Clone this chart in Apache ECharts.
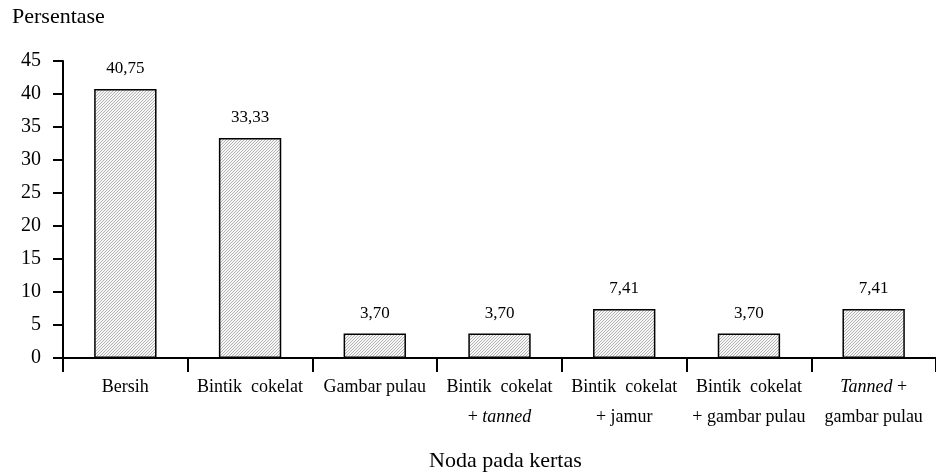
<!DOCTYPE html>
<html>
<head>
<meta charset="utf-8">
<script src="https://cdn.jsdelivr.net/npm/echarts@6/dist/echarts.min.js"></script>
<style>
html, body { margin: 0; padding: 0; background: #fff; }
#main { width: 936px; height: 475px; }
</style>
</head>
<body>
<div id="main"></div>
<script>
var categories = ['Bersih', 'Bintik  cokelat', 'Gambar pulau', 'Bintik  cokelat\n+ {i|tanned}',
	'Bintik  cokelat\n+ jamur', 'Bintik  cokelat\n+ gambar pulau', '{i|Tanned} +\ngambar pulau'];
var values = [40.75, 33.33, 3.70, 3.70, 7.41, 3.70, 7.41];
var yTicks = { min: 0, max: 45, interval: 5 };

// hatch fill
var hatch = document.createElement('canvas');
hatch.width = 3;
hatch.height = 3;
var ctx = hatch.getContext('2d');
ctx.fillStyle = '#f6f6f6';
ctx.fillRect(0, 0, 3, 3);
ctx.fillStyle = '#b4b4b4';
ctx.fillRect(2, 0, 1, 1);
ctx.fillRect(1, 1, 1, 1);
ctx.fillRect(0, 2, 1, 1);

var font = '"Liberation Serif", "Times New Roman", serif';
var chart = echarts.init(document.getElementById('main'));
var option = {
	animation : false,
	textStyle : { fontFamily : font, color : '#000' },
	grid : { left : 63, right : 0, top : 61, bottom : 117 },
	graphic : [ {
		type : 'text', left : 12, top : 6,
		style : { text : 'Persentase', font : '22px ' + font, fill : '#000' }
	}, {
		type : 'text', left : 429, top : 450,
		style : { text : 'Noda pada kertas', font : '22px ' + font, fill : '#000' }
	} ],
	xAxis : {
		type : 'category',
		data : categories,
		axisLine : { lineStyle : { color : '#000', width : 2 } },
		axisTick : { show : true, inside : false, length : 14, lineStyle : { color : '#000', width : 2 } },
		axisLabel : {
			color : '#000', fontSize : 18, margin : 14, lineHeight : 30, interval : 0,
			fontFamily : font,
			rich : { i : { fontStyle : 'italic', fontSize : 18, fontFamily : font, lineHeight : 30 } }
		}
	},
	yAxis : {
		type : 'value',
		min : yTicks.min, max : yTicks.max, interval : yTicks.interval,
		splitLine : { show : false },
		axisLine : { show : true, lineStyle : { color : '#000', width : 2 } },
		axisTick : { show : true, length : 10, lineStyle : { color : '#000', width : 2 } },
		axisLabel : { color : '#000', fontSize : 20, margin : 22, fontFamily : font }
	},
	series : [ {
		type : 'bar',
		data : values,
		barWidth : '50%',
		itemStyle : {
			color : { image : hatch, repeat : 'repeat' },
			borderColor : '#000',
			borderWidth : 1.5
		},
		label : {
			show : true, position : 'top', distance : 12,
			color : '#000', fontSize : 17, fontFamily : font,
			formatter : function(p) { return p.value.toFixed(2).replace('.', ','); }
		}
	} ]
};
chart.setOption(option);
</script>
</body>
</html>
